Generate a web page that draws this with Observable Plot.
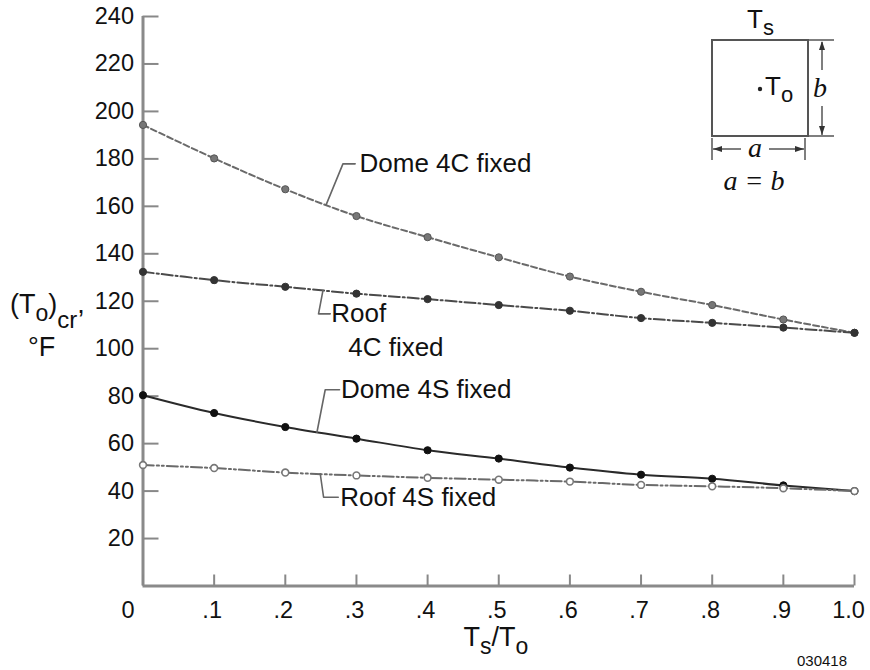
<!DOCTYPE html>
<html>
<head>
<meta charset="utf-8">
<script src="https://cdn.jsdelivr.net/npm/d3@7"></script>
<script src="https://cdn.jsdelivr.net/npm/@observablehq/plot@0.6"></script>
<style>
  html, body { margin: 0; padding: 0; background: #fff; }
  #chart svg { display: block; }
</style>
</head>
<body>
<div id="chart"></div>
<script>
// ---------- data ----------
const xValues = [0, 0.1, 0.2, 0.3, 0.4, 0.5, 0.6, 0.7, 0.8, 0.9, 1.0];
const dome4C = [194.3, 180.2, 167.2, 155.9, 147.0, 138.5, 130.4, 124.0, 118.4, 112.3, 106.7];
const roof4C = [132.4, 128.9, 126.1, 123.2, 120.9, 118.4, 116.0, 112.9, 110.9, 108.9, 106.7];
const dome4S = [80.4, 72.9, 67.0, 62.1, 57.2, 53.7, 49.9, 46.9, 45.2, 42.4, 40.0];
const roof4S = [51.0, 49.7, 47.8, 46.6, 45.6, 44.8, 44.0, 42.6, 42.0, 41.2, 40.0];

const xTicks = [0, 0.1, 0.2, 0.3, 0.4, 0.5, 0.6, 0.7, 0.8, 0.9, 1.0];
const xTickLabels = ["0", ".1", ".2", ".3", ".4", ".5", ".6", ".7", ".8", ".9", "1.0"];
const yTicks = [20, 40, 60, 80, 100, 120, 140, 160, 180, 200, 220, 240];

// annotation labels and leader lines (data coordinates)
const annoLabels = ["Dome 4C fixed", "Roof", "4C fixed", "Dome 4S fixed", "Roof 4S fixed"];
const annoX = [0.3043, 0.2646, 0.2884, 0.2782, 0.2772];
const annoY = [177.9, 114.7, 100.5, 82.7, 37.4];
const leaderNames = ["Dome 4C", "Dome 4C", "Dome 4C", "Roof 4C", "Roof 4C", "Roof 4C",
                     "Dome 4S", "Dome 4S", "Dome 4S", "Roof 4S", "Roof 4S", "Roof 4S"];
const leaderX = [0.2575, 0.281, 0.2982, 0.2529, 0.2467, 0.2632,
                 0.2445, 0.2561, 0.2762, 0.2491, 0.2538, 0.2744];
const leaderY = [160.7, 177.9, 177.9, 124.5, 114.7, 114.7,
                 64.8, 82.7, 82.7, 47.3, 37.4, 37.4];

// ---------- tables ----------
const mk = (name, ys) => xValues.map((x, i) => ({series: name, x, y: ys[i]}));
const sDome4C = mk("Dome 4C fixed", dome4C);
const sRoof4C = mk("Roof 4C fixed", roof4C);
const sDome4S = mk("Dome 4S fixed", dome4S);
const sRoof4S = mk("Roof 4S fixed", roof4S);
const annos = annoLabels.map((t, i) => ({t, x: annoX[i], y: annoY[i]}));
const leaders = leaderNames.map((n, i) => ({n, x: leaderX[i], y: leaderY[i]}));

const FONT = "'Liberation Sans', Arial, Helvetica, sans-serif";
const SERIF = "'Liberation Serif', 'Times New Roman', serif";
const lab = d => xTickLabels[xTicks.indexOf(d)];

const chart = Plot.plot({
  width: 870,
  height: 670,
  marginLeft: 142.5,
  marginRight: 16,
  marginTop: 16,
  marginBottom: 84.5,
  x: {domain: [0, 1]},
  y: {domain: [0, 240]},
  style: {fontFamily: FONT, background: "#fff", color: "#111"},
  marks: [
    // axis lines
    Plot.ruleX([0], {stroke: "#8a8a8a", strokeWidth: 3}),
    Plot.ruleY([0], {stroke: "#8a8a8a", strokeWidth: 3}),
    // inward tick marks
    Plot.axisY(yTicks, {tickSize: -16, tickFormat: () => "", stroke: "#888", strokeWidth: 2, label: null}),
    Plot.axisX(xTicks, {tickSize: -11, tickFormat: () => "", stroke: "#888", strokeWidth: 2, label: null}),
    // tick labels
    Plot.axisY(yTicks, {tickSize: 0, tickPadding: 9, fontSize: 23.5, label: null}),
    Plot.axisX([0], {tickSize: 0, tickPadding: 15, fontSize: 23.5, tickFormat: lab, dx: -15, label: null}),
    Plot.axisX(xTicks.slice(1, 10), {tickSize: 0, tickPadding: 15, fontSize: 23.5, tickFormat: lab, dx: -2, label: null}),
    Plot.axisX([1], {tickSize: 0, tickPadding: 15, fontSize: 23.5, tickFormat: lab, dx: -6, label: null}),
    // curves
    Plot.line(sDome4C, {x: "x", y: "y", curve: "catmull-rom", stroke: "#6a6a6a", strokeWidth: 2, strokeDasharray: "6,3"}),
    Plot.line(sRoof4C, {x: "x", y: "y", curve: "catmull-rom", stroke: "#4a4a4a", strokeWidth: 2, strokeDasharray: "11,3,2,3"}),
    Plot.line(sDome4S, {x: "x", y: "y", curve: "catmull-rom", stroke: "#2a2a2a", strokeWidth: 2}),
    Plot.line(sRoof4S, {x: "x", y: "y", curve: "catmull-rom", stroke: "#6a6a6a", strokeWidth: 2, strokeDasharray: "11,3,2,3,2,3"}),
    // markers
    Plot.dot(sDome4C, {x: "x", y: "y", r: 3.6, fill: "#777", stroke: "#555", strokeWidth: 1}),
    Plot.dot(sRoof4C, {x: "x", y: "y", r: 3.6, fill: "#333", stroke: "#333", strokeWidth: 1}),
    Plot.dot(sDome4S, {x: "x", y: "y", r: 3.6, fill: "#111", stroke: "#111", strokeWidth: 1}),
    Plot.dot(sRoof4S, {x: "x", y: "y", r: 3.4, fill: "#fff", stroke: "#777", strokeWidth: 1.6}),
    // leader lines and labels
    Plot.line(leaders, {x: "x", y: "y", z: "n", stroke: "#666", strokeWidth: 1.6}),
    Plot.text(annos, {x: "x", y: "y", text: "t", textAnchor: "start", fontSize: 26, fill: "#111"})
  ]
});

document.getElementById("chart").appendChild(chart);

// ---------- overlay: axis titles with subscripts, inset diagram, caption ----------
const svg = d3.select(chart);
const g = svg.append("g").attr("fill", "#111");

function richText(parent, x, y, parts, opts = {}) {
  const t = parent.append("text")
    .attr("x", x).attr("y", y)
    .attr("font-family", opts.family || FONT)
    .attr("font-size", opts.size || 26)
    .attr("text-anchor", opts.anchor || "start");
  if (opts.italic) t.attr("font-style", "italic");
  for (const p of parts) {
    const s = t.append("tspan").text(p.t);
    if (p.dy) s.attr("dy", p.dy);
    if (p.size) s.attr("font-size", p.size);
  }
  return t;
}

// y-axis title: (To)cr, °F
richText(g, 10, 313, [
  {t: "(T"}, {t: "o", dy: 8, size: 23}, {t: ")", dy: -8},
  {t: "cr", dy: 15, size: 24}, {t: ",", dy: -15}
], {size: 27});
richText(g, 28, 356, [{t: "°F"}], {size: 27});

// x-axis title: Ts/To
richText(g, 496, 646, [
  {t: "T"}, {t: "s", dy: 8, size: 23}, {t: "/T", dy: -8}, {t: "o", dy: 8, size: 23}
], {size: 27, anchor: "middle"});

// caption
richText(g, 822, 666, [{t: "030418"}], {size: 15, anchor: "middle"});

// inset diagram
const ins = svg.append("g");
const INK = "#555";
ins.append("rect").attr("x", 712).attr("y", 40).attr("width", 96).attr("height", 96)
  .attr("fill", "none").attr("stroke", INK).attr("stroke-width", 2);
// Ts label
richText(ins, 747, 28, [{t: "T"}, {t: "s", dy: 7, size: 22}], {size: 26});
// center point and To
ins.append("circle").attr("cx", 760).attr("cy", 89).attr("r", 2.2).attr("fill", "#222");
richText(ins, 765, 95, [{t: "T"}, {t: "o", dy: 7, size: 22}], {size: 26});
// vertical dimension b
ins.append("line").attr("x1", 808).attr("x2", 834).attr("y1", 40).attr("y2", 40).attr("stroke", INK).attr("stroke-width", 1.5);
ins.append("line").attr("x1", 808).attr("x2", 834).attr("y1", 136).attr("y2", 136).attr("stroke", INK).attr("stroke-width", 1.5);
ins.append("line").attr("x1", 822).attr("x2", 822).attr("y1", 42).attr("y2", 135).attr("stroke", INK).attr("stroke-width", 1.5);
ins.append("path").attr("d", "M822,41L819,50L825,50Z").attr("fill", "#333");
ins.append("path").attr("d", "M822,135L819,126L825,126Z").attr("fill", "#333");
ins.append("rect").attr("x", 811).attr("y", 70).attr("width", 20).attr("height", 36).attr("fill", "#fff");
richText(ins, 820, 97, [{t: "b"}], {size: 28, family: SERIF, italic: true, anchor: "middle"});
// horizontal dimension a
ins.append("line").attr("x1", 712).attr("x2", 712).attr("y1", 138).attr("y2", 160).attr("stroke", INK).attr("stroke-width", 1.5);
ins.append("line").attr("x1", 805).attr("x2", 805).attr("y1", 138).attr("y2", 160).attr("stroke", INK).attr("stroke-width", 1.5);
ins.append("line").attr("x1", 713).attr("x2", 804).attr("y1", 149).attr("y2", 149).attr("stroke", INK).attr("stroke-width", 1.5);
ins.append("path").attr("d", "M713,149L722,146L722,152Z").attr("fill", "#333");
ins.append("path").attr("d", "M804,149L795,146L795,152Z").attr("fill", "#333");
ins.append("rect").attr("x", 741).attr("y", 138).attr("width", 28).attr("height", 22).attr("fill", "#fff");
richText(ins, 755, 157, [{t: "a"}], {size: 28, family: SERIF, italic: true, anchor: "middle"});
// a = b
richText(ins, 754, 190, [{t: "a = b"}], {size: 28, family: SERIF, italic: true, anchor: "middle"});
</script>
</body>
</html>
